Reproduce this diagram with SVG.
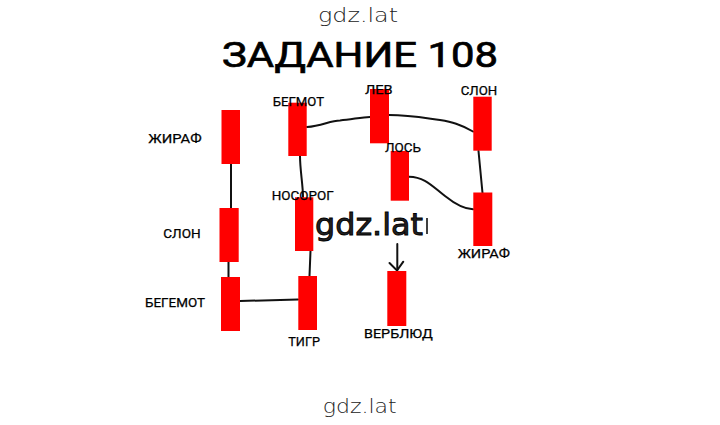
<svg xmlns="http://www.w3.org/2000/svg" width="720" height="425" viewBox="0 0 720 425">
<style>
.node rect{fill:#ff0000}
.lbl{font-family:Roboto,"Liberation Sans",sans-serif;font-weight:400;font-size:13.5px;fill:#000;stroke:#000;stroke-width:0.25}
.conn path{fill:none;stroke:#111;stroke-width:2;stroke-linecap:round}
.wm{font-family:"DejaVu Sans","Liberation Sans",sans-serif;fill:#222}
</style>
<rect width="720" height="425" fill="#fff"/>
<text class="wm" x="318" y="21.5" font-size="20" textLength="80" lengthAdjust="spacingAndGlyphs" font-weight="300">gdz.lat</text>
<text x="222" y="66.7" font-family="Roboto,'Liberation Sans',sans-serif" font-weight="400" font-size="35" fill="#000" stroke="#000" stroke-width="0.7" textLength="276" lengthAdjust="spacingAndGlyphs">ЗАДАНИЕ 108</text>
<g class="conn">
<path d="M231,164 L231,208"/>
<path d="M228.5,262 L228.5,277"/>
<path d="M240,301 L298,299.5"/>
<path d="M310.5,251 L309.5,276"/>
<path d="M300,156 C300,170 303,185 303,197"/>
<path d="M307,127 C322,126 330,120.5 340,120.5 C352,119.5 362,117 370,117"/>
<path d="M389,115 C410,115 425,118 440,120 C452,122 460,124 473,131.5"/>
<path d="M478.5,151 L482.5,193"/>
<path d="M409,176.7 C425,177 432,186 445,196 C455,204 464,209 473,209.3"/>
<path d="M397.3,244 L397.3,270"/>
<path d="M389.5,263 L397,270.5 L403.3,261.7"/>
</g>
<g id="n-zhiraf1" class="node"><rect x="221.5" y="110" width="18.5" height="54"/><text class="lbl" x="148.3" y="142.5" textLength="53.4" lengthAdjust="spacingAndGlyphs">ЖИРАФ</text></g>
<g id="n-slon1" class="node"><rect x="219.5" y="208" width="19.2" height="54"/><text class="lbl" x="163.3" y="238.3" textLength="37.4" lengthAdjust="spacingAndGlyphs">СЛОН</text></g>
<g id="n-begemot1" class="node"><rect x="221" y="277" width="19" height="54"/><text class="lbl" x="145" y="307.3" textLength="60" lengthAdjust="spacingAndGlyphs">БЕГЕМОТ</text></g>
<g id="n-begmot" class="node"><rect x="288.3" y="102.7" width="18.4" height="53.3"/><text class="lbl" x="272.7" y="105.7" textLength="51.3" lengthAdjust="spacingAndGlyphs">БЕГМОТ</text></g>
<g id="n-nosorog" class="node"><rect x="295" y="197.3" width="18.3" height="53.7"/><text class="lbl" x="271.7" y="200" textLength="62" lengthAdjust="spacingAndGlyphs">НОСОРОГ</text></g>
<g id="n-tigr" class="node"><rect x="298.3" y="276" width="18.7" height="54"/><text class="lbl" x="288.3" y="346" textLength="31.7" lengthAdjust="spacingAndGlyphs">ТИГР</text></g>
<g id="n-lev" class="node"><rect x="370" y="89" width="19" height="54.3"/><text class="lbl" x="365" y="94" textLength="27.7" lengthAdjust="spacingAndGlyphs">ЛЕВ</text></g>
<g id="n-los" class="node"><rect x="390.7" y="151" width="18.3" height="49.7"/><text class="lbl" x="385" y="152.3" textLength="36" lengthAdjust="spacingAndGlyphs">ЛОСЬ</text></g>
<g id="n-slon2" class="node"><rect x="473.3" y="96.7" width="18.4" height="54"/><text class="lbl" x="460.7" y="95" textLength="36.6" lengthAdjust="spacingAndGlyphs">СЛОН</text></g>
<g id="n-zhiraf2" class="node"><rect x="473.3" y="192.5" width="19" height="53.5"/><text class="lbl" x="457.7" y="258.3" textLength="52.3" lengthAdjust="spacingAndGlyphs">ЖИРАФ</text></g>
<g id="n-verblyud" class="node"><rect x="387.3" y="271" width="19" height="55"/><text class="lbl" x="364" y="338.3" textLength="68.7" lengthAdjust="spacingAndGlyphs">ВЕРБЛЮД</text></g>
<text class="wm" x="315" y="234.5" font-size="31" fill="#000" stroke="#000" stroke-width="0.9" textLength="108" lengthAdjust="spacingAndGlyphs">gdz.lat</text>
<line x1="427" y1="218" x2="427" y2="234" stroke="#000" stroke-width="1.5"/>
<text class="wm" x="322.7" y="413.3" font-size="20" textLength="74" lengthAdjust="spacingAndGlyphs" font-weight="300">gdz.lat</text>
</svg>
